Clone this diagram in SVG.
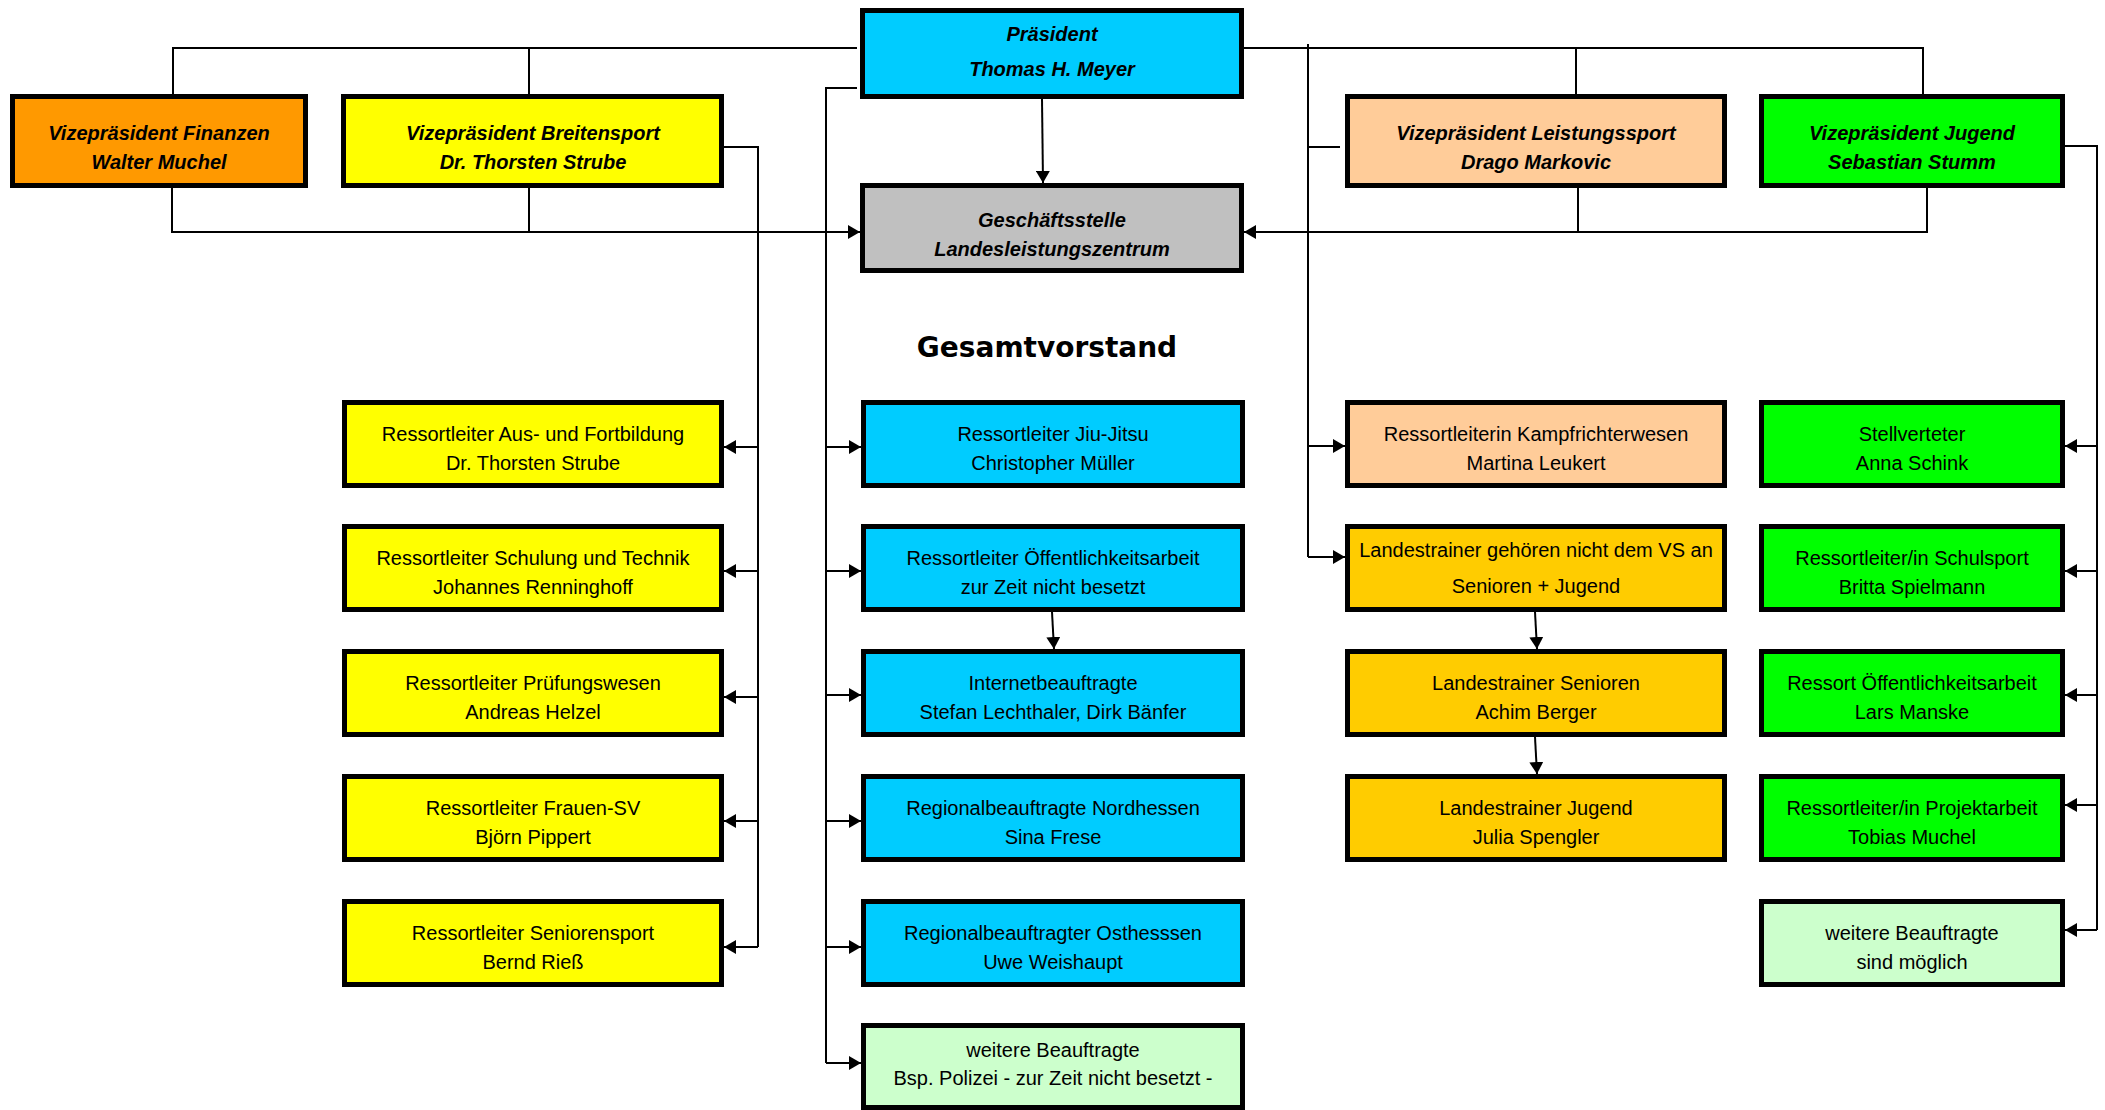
<svg xmlns="http://www.w3.org/2000/svg" width="2105" height="1110" viewBox="0 0 2105 1110">
<style>
.b{stroke:#000;stroke-width:5}
.org{fill:#FF9900}.yel{fill:#FFFF00}.blu{fill:#00CCFF}.gry{fill:#C0C0C0}
.pch{fill:#FFCC99}.grn{fill:#00FF00}.gld{fill:#FFCC00}.lgr{fill:#CCFFCC}
.vp{font-family:"Liberation Sans",Arial,sans-serif;font-size:20px;font-style:italic;font-weight:bold;text-anchor:middle;fill:#000}
.t{font-family:"Liberation Sans",Arial,sans-serif;font-size:20px;text-anchor:middle;fill:#000}
.h{font-family:"DejaVu Sans",sans-serif;font-size:28px;font-weight:bold;text-anchor:middle;fill:#000}
.c{fill:none;stroke:#000;stroke-width:2}
.a{fill:none;stroke:#000;stroke-width:2;marker-end:url(#ah)}
</style>
<defs>
<marker id="ah" viewBox="0 0 12 14" refX="12" refY="7" markerWidth="12" markerHeight="14" markerUnits="userSpaceOnUse" orient="auto">
<path d="M0,0 L12,7 L0,14 Z" fill="#000"/>
</marker>
</defs>
<rect width="2105" height="1110" fill="#fff"/>

<g id="connectors">
<path class="c" d="M173,94 V48 H857"/>
<path class="c" d="M529,48 V94"/>
<path class="c" d="M1244,48 H1923 V94"/>
<path class="c" d="M1576,48 V94"/>
<path class="a" d="M172,188 V232 H860"/>
<path class="c" d="M529,188 V232"/>
<path class="a" d="M1927,188 V232 H1244"/>
<path class="c" d="M1578,188 V232"/>
<path class="a" d="M1042,99 L1043,183"/>
<path class="c" d="M724,147 H758 V947"/>
<path class="a" d="M758,447 H724"/>
<path class="a" d="M758,571 H724"/>
<path class="a" d="M758,697 H724"/>
<path class="a" d="M758,821 H724"/>
<path class="a" d="M758,947 H724"/>
<path class="c" d="M857,88 H826 V1063"/>
<path class="a" d="M826,447 H861"/>
<path class="a" d="M826,571 H861"/>
<path class="a" d="M826,695 H861"/>
<path class="a" d="M826,821 H861"/>
<path class="a" d="M826,947 H861"/>
<path class="a" d="M826,1063 H861"/>
<path class="a" d="M1052,612 L1054,649"/>
<path class="c" d="M1308,44 V557"/>
<path class="c" d="M1308,147 H1340"/>
<path class="a" d="M1308,446 H1345"/>
<path class="a" d="M1308,557 H1345"/>
<path class="a" d="M1535,612 L1537,649"/>
<path class="a" d="M1535,737 L1537,774"/>
<path class="c" d="M2065,146 H2097 V930"/>
<path class="a" d="M2097,446 H2065"/>
<path class="a" d="M2097,571 H2065"/>
<path class="a" d="M2097,695 H2065"/>
<path class="a" d="M2097,805 H2065"/>
<path class="a" d="M2097,930 H2065"/>
</g>

<g id="praesident"><rect class="b blu" x="862.5" y="10.5" width="379" height="86"/>
<text class="vp" x="1052" y="41">Präsident</text><text class="vp" x="1052" y="76">Thomas H. Meyer</text></g>
<g id="geschaeftsstelle"><rect class="b gry" x="862.5" y="185.5" width="379" height="85"/>
<text class="vp" x="1052" y="227">Geschäftsstelle</text><text class="vp" x="1052" y="256">Landesleistungszentrum</text></g>
<g id="vp-finanzen"><rect class="b org" x="12.5" y="96.5" width="293" height="89"/>
<text class="vp" x="159" y="140">Vizepräsident Finanzen</text><text class="vp" x="159" y="169">Walter Muchel</text></g>
<g id="vp-breitensport"><rect class="b yel" x="343.5" y="96.5" width="378" height="89"/>
<text class="vp" x="533" y="140">Vizepräsident Breitensport</text><text class="vp" x="533" y="169">Dr. Thorsten Strube</text></g>
<g id="vp-leistungssport"><rect class="b pch" x="1347.5" y="96.5" width="377" height="89"/>
<text class="vp" x="1536" y="140">Vizepräsident Leistungssport</text><text class="vp" x="1536" y="169">Drago Markovic</text></g>
<g id="vp-jugend"><rect class="b grn" x="1761.5" y="96.5" width="301" height="89"/>
<text class="vp" x="1912" y="140">Vizepräsident Jugend</text><text class="vp" x="1912" y="169">Sebastian Stumm</text></g>

<g id="title"><text class="h" x="1047" y="357">Gesamtvorstand</text></g>

<g id="ausbildung"><rect class="b yel" x="344.5" y="402.5" width="377" height="83"/>
<text class="t" x="533" y="441">Ressortleiter Aus- und Fortbildung</text><text class="t" x="533" y="470">Dr. Thorsten Strube</text></g>
<g id="schulung"><rect class="b yel" x="344.5" y="526.5" width="377" height="83"/>
<text class="t" x="533" y="565">Ressortleiter Schulung und Technik</text><text class="t" x="533" y="594">Johannes Renninghoff</text></g>
<g id="pruefung"><rect class="b yel" x="344.5" y="651.5" width="377" height="83"/>
<text class="t" x="533" y="690">Ressortleiter Prüfungswesen</text><text class="t" x="533" y="719">Andreas Helzel</text></g>
<g id="frauen"><rect class="b yel" x="344.5" y="776.5" width="377" height="83"/>
<text class="t" x="533" y="815">Ressortleiter Frauen-SV</text><text class="t" x="533" y="844">Björn Pippert</text></g>
<g id="senioren"><rect class="b yel" x="344.5" y="901.5" width="377" height="83"/>
<text class="t" x="533" y="940">Ressortleiter Seniorensport</text><text class="t" x="533" y="969">Bernd Rieß</text></g>

<g id="jiujitsu"><rect class="b blu" x="863.5" y="402.5" width="379" height="83"/>
<text class="t" x="1053" y="441">Ressortleiter Jiu-Jitsu</text><text class="t" x="1053" y="470">Christopher Müller</text></g>
<g id="oeffentlichkeit"><rect class="b blu" x="863.5" y="526.5" width="379" height="83"/>
<text class="t" x="1053" y="565">Ressortleiter Öffentlichkeitsarbeit</text><text class="t" x="1053" y="594">zur Zeit nicht besetzt</text></g>
<g id="internet"><rect class="b blu" x="863.5" y="651.5" width="379" height="83"/>
<text class="t" x="1053" y="690">Internetbeauftragte</text><text class="t" x="1053" y="719">Stefan Lechthaler, Dirk Bänfer</text></g>
<g id="nordhessen"><rect class="b blu" x="863.5" y="776.5" width="379" height="83"/>
<text class="t" x="1053" y="815">Regionalbeauftragte Nordhessen</text><text class="t" x="1053" y="844">Sina Frese</text></g>
<g id="osthessen"><rect class="b blu" x="863.5" y="901.5" width="379" height="83"/>
<text class="t" x="1053" y="940">Regionalbeauftragter Osthesssen</text><text class="t" x="1053" y="969">Uwe Weishaupt</text></g>
<g id="weitere-blau"><rect class="b lgr" x="863.5" y="1025.5" width="379" height="82"/>
<text class="t" x="1053" y="1057">weitere Beauftragte</text><text class="t" x="1053" y="1085">Bsp. Polizei - zur Zeit nicht besetzt -</text></g>

<g id="kampfrichter"><rect class="b pch" x="1347.5" y="402.5" width="377" height="83"/>
<text class="t" x="1536" y="441">Ressortleiterin Kampfrichterwesen</text><text class="t" x="1536" y="470">Martina Leukert</text></g>
<g id="landestrainer"><rect class="b gld" x="1347.5" y="526.5" width="377" height="83"/>
<text class="t" x="1536" y="557">Landestrainer gehören nicht dem VS an</text><text class="t" x="1536" y="593">Senioren + Jugend</text></g>
<g id="lt-senioren"><rect class="b gld" x="1347.5" y="651.5" width="377" height="83"/>
<text class="t" x="1536" y="690">Landestrainer Senioren</text><text class="t" x="1536" y="719">Achim Berger</text></g>
<g id="lt-jugend"><rect class="b gld" x="1347.5" y="776.5" width="377" height="83"/>
<text class="t" x="1536" y="815">Landestrainer Jugend</text><text class="t" x="1536" y="844">Julia Spengler</text></g>

<g id="stellvertreter"><rect class="b grn" x="1761.5" y="402.5" width="301" height="83"/>
<text class="t" x="1912" y="441">Stellverteter</text><text class="t" x="1912" y="470">Anna Schink</text></g>
<g id="schulsport"><rect class="b grn" x="1761.5" y="526.5" width="301" height="83"/>
<text class="t" x="1912" y="565">Ressortleiter/in Schulsport</text><text class="t" x="1912" y="594">Britta Spielmann</text></g>
<g id="ressort-oeffentlichkeit"><rect class="b grn" x="1761.5" y="651.5" width="301" height="83"/>
<text class="t" x="1912" y="690">Ressort Öffentlichkeitsarbeit</text><text class="t" x="1912" y="719">Lars Manske</text></g>
<g id="projektarbeit"><rect class="b grn" x="1761.5" y="776.5" width="301" height="83"/>
<text class="t" x="1912" y="815">Ressortleiter/in Projektarbeit</text><text class="t" x="1912" y="844">Tobias Muchel</text></g>
<g id="weitere-gruen"><rect class="b lgr" x="1761.5" y="901.5" width="301" height="83"/>
<text class="t" x="1912" y="940">weitere Beauftragte</text><text class="t" x="1912" y="969">sind möglich</text></g>
</svg>
